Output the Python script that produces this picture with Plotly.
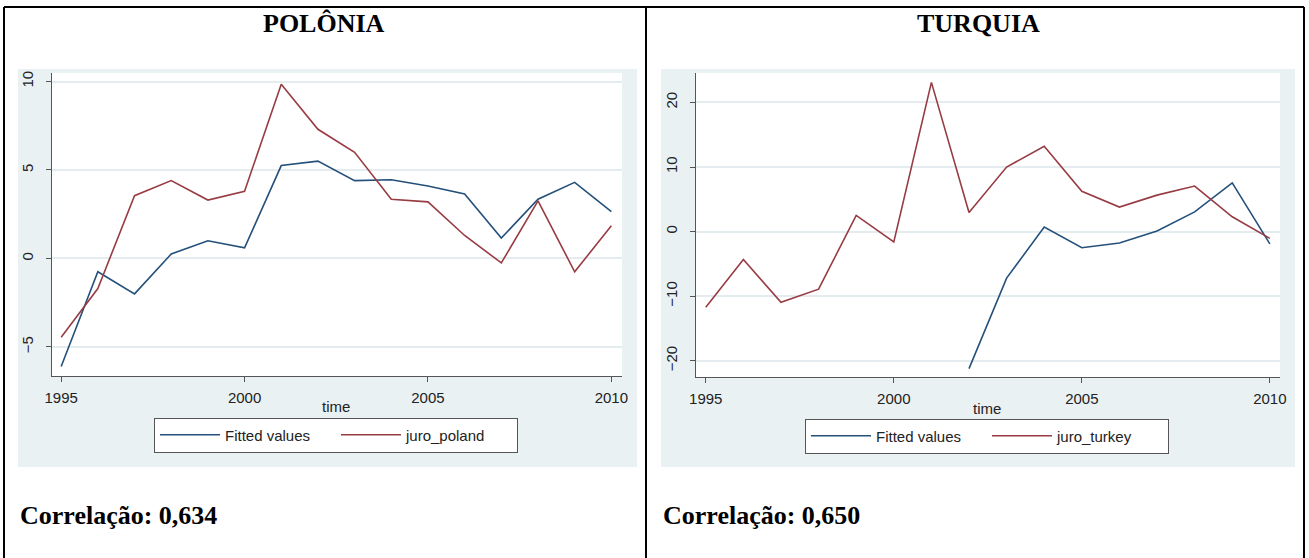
import plotly.graph_objects as go

# ---- data -------------------------------------------------------------
years = list(range(1995, 2011))

poland_fitted = [-6.1, -0.75, -2.0, 0.25, 1.0, 0.6, 5.25, 5.5,
                 4.4, 4.45, 4.1, 3.65, 1.15, 3.35, 4.3, 2.65]
poland_juro = [-4.45, -1.7, 3.55, 4.4, 3.3, 3.8, 9.85, 7.3,
               6.0, 3.35, 3.2, 1.3, -0.25, 3.25, -0.75, 1.85]

turkey_fitted = [None, None, None, None, None, None, None, -21.2,
                 -7.2, 0.7, -2.5, -1.75, 0.1, 3.05, 7.55, -1.9]
turkey_juro = [-11.7, -4.3, -10.95, -8.9, 2.5, -1.6, 23.1, 2.95,
               10.0, 13.2, 6.25, 3.8, 5.65, 7.05, 2.3, -1.05]

x_ticks = [1995, 2000, 2005, 2010]
poland_y_ticks = [-5, 0, 5, 10]
turkey_y_ticks = [-20, -10, 0, 10, 20]

panel_titles = ["POLÔNIA", "TURQUIA"]
correlations = ["Correlação: 0,634", "Correlação: 0,650"]

# ---- styling ------------------------------------------------------------
W, H = 1309, 558
NAVY = "#24507a"
MAROON = "#983c44"
REGION = "#EAF1F3"
GRID = "#E4ECEF"
AXIS = "#555555"
SANS = "Liberation Sans, Arial, sans-serif"
SERIF = "Liberation Serif, Times New Roman, serif"


def px_x(v):
    return v / W


def px_y(v):
    return 1 - v / H


# plot areas in pixels: (left, right, top, bottom)
left_box = (52, 622, 73, 376)
right_box = (696, 1280, 73, 377)

fig = go.Figure()

fig.add_trace(go.Scatter(x=years, y=poland_fitted, name="Fitted values", mode="lines",
                         line=dict(color=NAVY, width=1.6), xaxis="x", yaxis="y",
                         legend="legend"))
fig.add_trace(go.Scatter(x=years, y=poland_juro, name="juro_poland", mode="lines",
                         line=dict(color=MAROON, width=1.6), xaxis="x", yaxis="y",
                         legend="legend"))
fig.add_trace(go.Scatter(x=years, y=turkey_fitted, name="Fitted values", mode="lines",
                         line=dict(color=NAVY, width=1.6), xaxis="x2", yaxis="y2",
                         legend="legend2", connectgaps=False))
fig.add_trace(go.Scatter(x=years, y=turkey_juro, name="juro_turkey", mode="lines",
                         line=dict(color=MAROON, width=1.6), xaxis="x2", yaxis="y2",
                         legend="legend2"))


def xaxis_style(box, rng):
    return dict(domain=[px_x(box[0]), px_x(box[1])], range=rng,
                tickvals=x_ticks, ticks="outside", ticklen=5, tickcolor=AXIS,
                showline=True, linecolor=AXIS, linewidth=1, mirror=False,
                showgrid=False, zeroline=False, ticklabelstandoff=3, automargin=False,
                tickfont=dict(family=SANS, size=15, color="#222222"))


def yaxis_style(box, rng, ticks, anchor):
    return dict(domain=[px_y(box[3]), px_y(box[2])], range=rng, anchor=anchor,
                tickvals=ticks, ticks="outside", ticklen=5, tickcolor=AXIS,
                tickangle=-90, showline=True, linecolor=AXIS, linewidth=1,
                mirror=False, showgrid=True, gridcolor=GRID, gridwidth=1.5,
                zeroline=False, ticklabelstandoff=7, automargin=False,
                tickfont=dict(family=SANS, size=15, color="#222222"))


shapes = []
# light graph regions behind each chart
for (l, r) in [(18, 637), (661, 1295)]:
    shapes.append(dict(type="rect", xref="paper", yref="paper",
                       x0=px_x(l), x1=px_x(r), y0=px_y(467), y1=px_y(69),
                       fillcolor=REGION, line=dict(width=0), layer="below"))
# white plotting areas
for box in (left_box, right_box):
    shapes.append(dict(type="rect", xref="paper", yref="paper",
                       x0=px_x(box[0]), x1=px_x(box[1]), y0=px_y(box[3]), y1=px_y(box[2]),
                       fillcolor="white", line=dict(width=0), layer="below"))
# table frame
frame = [(4, 7, 1304, 7), (4, 7, 4, H), (646, 7, 646, H), (1304, 7, 1304, H)]
for (x0, y0, x1, y1) in frame:
    shapes.append(dict(type="line", xref="paper", yref="paper",
                       x0=px_x(x0), y0=px_y(y0), x1=px_x(x1), y1=px_y(y1),
                       line=dict(color="black", width=2)))

annotations = []
for text, cx in zip(panel_titles, [324, 978]):
    annotations.append(dict(text=f"<b>{text}</b>", x=px_x(cx), y=px_y(24),
                            xref="paper", yref="paper", xanchor="center", yanchor="middle",
                            showarrow=False, font=dict(family=SERIF, size=26, color="black")))
for text, lx in zip(correlations, [18, 661]):
    annotations.append(dict(text=f"<b>{text}</b>", x=px_x(lx), y=px_y(515),
                            xref="paper", yref="paper", xanchor="left", yanchor="middle",
                            showarrow=False, font=dict(family=SERIF, size=26, color="black")))
for cx, cy in [(336, 406), (987, 408)]:
    annotations.append(dict(text="time", x=px_x(cx), y=px_y(cy),
                            xref="paper", yref="paper", xanchor="center", yanchor="middle",
                            showarrow=False, font=dict(family=SANS, size=15, color="#222222")))

legend_common = dict(orientation="h", xanchor="center", yanchor="middle",
                     bgcolor="white", bordercolor="#555555", borderwidth=1,
                     entrywidth=106, entrywidthmode="pixels", itemwidth=60,
                     font=dict(family=SANS, size=15, color="#222222"), tracegroupgap=0)

fig.update_layout(
    width=W, height=H,
    margin=dict(l=0, r=0, t=0, b=0, pad=0, autoexpand=False),
    paper_bgcolor="white", plot_bgcolor="rgba(0,0,0,0)",
    xaxis=xaxis_style(left_box, [1994.75, 2010.29]) | dict(anchor="y"),
    yaxis=yaxis_style(left_box, [-6.64, 10.48], poland_y_ticks, "x"),
    xaxis2=xaxis_style(right_box, [1994.74, 2010.27]) | dict(anchor="y2"),
    yaxis2=yaxis_style(right_box, [-22.5, 24.55], turkey_y_ticks, "x2"),
    legend=legend_common | dict(x=px_x(336), y=px_y(435)),
    legend2=legend_common | dict(x=px_x(987), y=px_y(436)),
    shapes=shapes,
    annotations=annotations,
    showlegend=True,
)

fig.write_html("out.html")
